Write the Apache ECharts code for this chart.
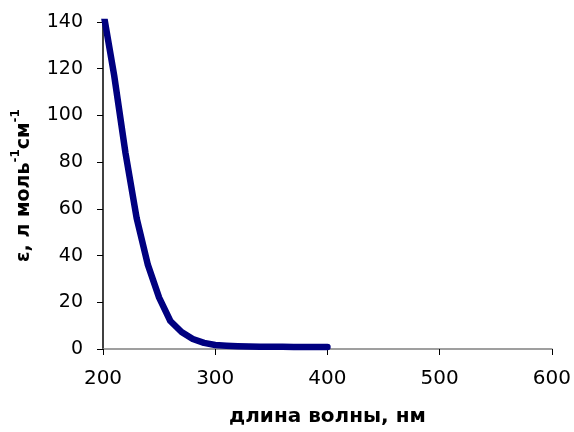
<!DOCTYPE html>
<html>
<head>
<meta charset="utf-8">
<script src="https://cdn.jsdelivr.net/npm/echarts@6/dist/echarts.min.js"></script>
<style>
html,body{margin:0;padding:0;background:#fff;}
#chart{width:574px;height:432px;}
</style>
</head>
<body>
<div id="chart"></div>
<script>
const wavelengths = [200,210,220,230,240,250,260,270,280,290,300,310,320,330,340,350,360,370,380,390,400];
const epsilon = [145,117,84,56,36,22,12,7.3,4.3,2.6,1.7,1.4,1.2,1.1,1.0,1.0,0.95,0.9,0.9,0.9,0.9];
const xTicks = {min:200, max:600, interval:100};
const yTicks = {min:0, max:140, interval:20};
const xTitle = 'длина волны, нм';

const seriesData = wavelengths.map((w,i)=>[w, epsilon[i]]);
const FONT = '"DejaVu Sans", sans-serif';

const chart = echarts.init(document.getElementById('chart'), null, {renderer:'canvas'});
chart.setOption({
  animation:false,
  backgroundColor:'#fff',
  grid:{left:103, right:18, top:22, bottom:80, containLabel:false},
  xAxis:{
    type:'value', min:xTicks.min, max:xTicks.max, interval:xTicks.interval,
    name:xTitle, nameLocation:'middle', nameGap:58,
    nameTextStyle:{fontFamily:FONT, fontSize:20, fontWeight:'bold', color:'#000'},
    axisLine:{show:true, lineStyle:{color:'#808080', width:1.5}},
    axisTick:{show:true, inside:false, length:6, lineStyle:{color:'#000', width:1}},
    axisLabel:{fontFamily:FONT, fontSize:20, color:'#000', margin:20},
    splitLine:{show:false}
  },
  yAxis:{
    type:'value', min:yTicks.min, max:yTicks.max, interval:yTicks.interval,
    name:'{m|ε, л моль}{s|-1}{m|см}{s|-1}', nameLocation:'middle', nameGap:69, nameRotate:90,
    nameTextStyle:{
      fontFamily:FONT, fontWeight:'bold', color:'#000',
      rich:{
        m:{fontFamily:FONT, fontSize:19, fontWeight:'bold', color:'#000', lineHeight:24, verticalAlign:'bottom'},
        s:{fontFamily:FONT, fontSize:12, fontWeight:'bold', color:'#000', lineHeight:12, verticalAlign:'top'}
      }
    },
    axisLine:{show:true, lineStyle:{color:'#000', width:1.5}},
    axisTick:{show:true, inside:false, length:6, lineStyle:{color:'#000', width:1}},
    axisLabel:{fontFamily:FONT, fontSize:19, color:'#000', margin:20},
    splitLine:{show:false}
  },
  series:[{
    type:'line', data:seriesData, showSymbol:false, clip:true,
    lineStyle:{color:'#000080', width:6.5, cap:'round', join:'round'},
    itemStyle:{color:'#000080'}
  }]
});
</script>
</body>
</html>
